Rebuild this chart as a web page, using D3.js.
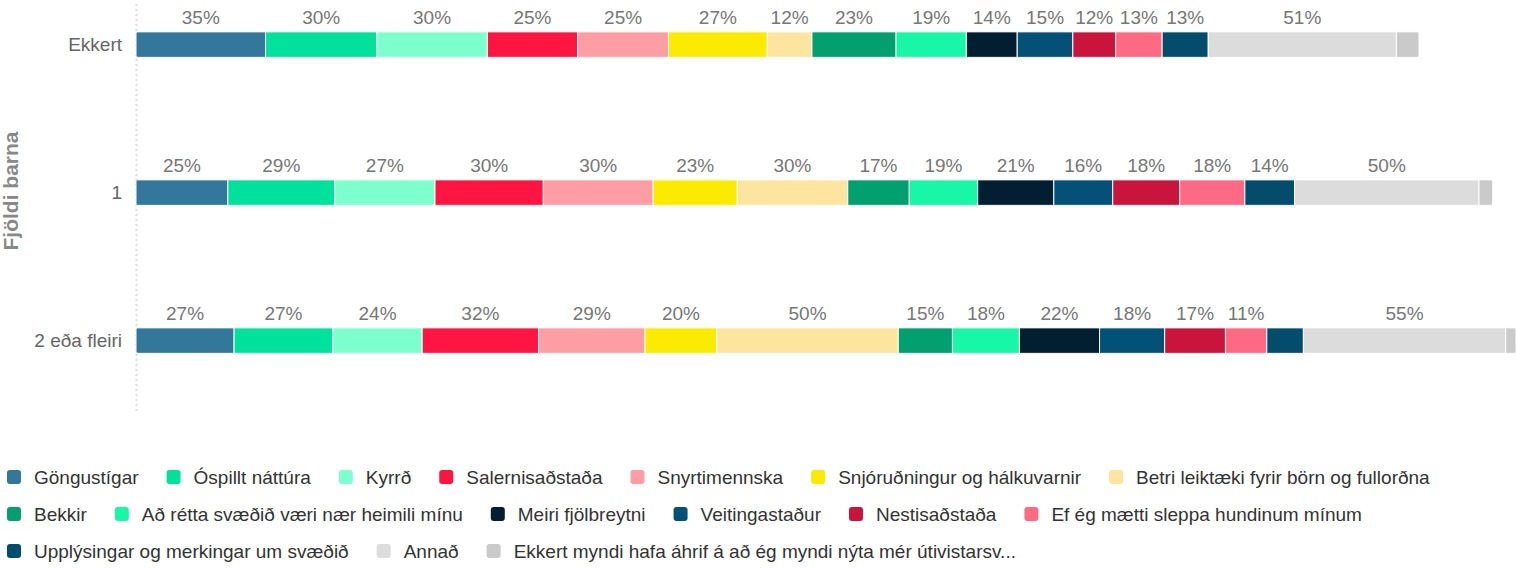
<!DOCTYPE html>
<html>
<head>
<meta charset="utf-8">
<script src="https://cdn.jsdelivr.net/npm/d3@7"></script>
<style>
  body { margin: 0; background: #fff; }
  svg text { font-family: "Liberation Sans", Arial, sans-serif; }
</style>
</head>
<body>
<svg id="chart" width="1516" height="569"></svg>
<script>
// Categories on the vertical axis (number of children)
const categories = ["Ekkert", "1", "2 eða fleiri"];

// Answer options, in stacking order
const seriesNames = [
  "Göngustígar",
  "Óspillt náttúra",
  "Kyrrð",
  "Salernisaðstaða",
  "Snyrtimennska",
  "Snjóruðningur og hálkuvarnir",
  "Betri leiktæki fyrir börn og fullorðna",
  "Bekkir",
  "Að rétta svæðið væri nær heimili mínu",
  "Meiri fjölbreytni",
  "Veitingastaður",
  "Nestisaðstaða",
  "Ef ég mætti sleppa hundinum mínum",
  "Upplýsingar og merkingar um svæðið",
  "Annað",
  "Ekkert myndi hafa áhrif á að ég myndi nýta mér útivistarsv..."
];

const seriesColors = [
  "#33779b", "#00e29b", "#7dffce", "#fe1541", "#ff9da4", "#fbeb00",
  "#fee59f", "#02a06e", "#17f7a7", "#021e31", "#045177", "#c9153c",
  "#fe6a83", "#034c6b", "#dcdcdc", "#cacaca"
];

// Share (%) per answer option, one array per category
const valuesEkkert = [35.4, 30.4, 30.2, 24.7, 24.8, 27.0, 12.2, 23.0, 19.2, 13.9, 15.2, 11.7, 12.7, 12.6, 51.4, 6.2];
const valuesOne    = [25.1, 29.2, 27.4, 29.6, 30.0, 23.0, 30.2, 16.8, 18.7, 20.8, 16.1, 18.3, 17.8, 13.6, 50.4, 3.7];
const valuesTwoPlus = [26.8, 27.0, 24.4, 31.8, 29.1, 19.6, 49.6, 14.8, 18.3, 21.9, 17.8, 16.6, 11.3, 10.0, 55.3, 2.8];

const axisTitle = "Fjöldi barna";

const rowValues = [valuesEkkert, valuesOne, valuesTwoPlus];

const svg = d3.select("#chart");
const width = 1516;

const plotLeft = 136;
const plotRight = 1516;
const barHeight = 25.5;

const totals = rowValues.map(v => d3.sum(v));
const x = d3.scaleLinear().domain([0, d3.max(totals)]).range([plotLeft, plotRight]);
const y = d3.scalePoint().domain(categories).range([44.6, 340.6]);

// Dotted axis line
svg.append("line")
  .attr("x1", plotLeft + 0.5).attr("x2", plotLeft + 0.5)
  .attr("y1", 4).attr("y2", 414)
  .attr("stroke", "#dddddd").attr("stroke-width", 2)
  .attr("stroke-dasharray", "2,3");

// Category labels
svg.append("g").selectAll("text")
  .data(categories)
  .join("text")
  .attr("x", plotLeft - 14)
  .attr("y", d => y(d))
  .attr("dy", "0.35em")
  .attr("text-anchor", "end")
  .attr("font-size", 19)
  .attr("fill", "#666")
  .text(d => d);

// Axis title
svg.append("text")
  .attr("transform", `translate(17.5,${(4 + 414) / 2 - 18}) rotate(-90)`)
  .attr("text-anchor", "middle")
  .attr("font-size", 21)
  .attr("font-weight", "bold")
  .attr("fill", "#888")
  .text(axisTitle);

const defs = svg.append("defs");

categories.forEach((cat, ri) => {
  const vals = rowValues[ri];
  let acc = 0;
  const segs = vals.map((v, si) => {
    const s = { v, si, x0: acc, x1: acc + v };
    acc += v;
    return s;
  });
  const top = y(cat) - barHeight / 2;

  // Rounded ends of the whole stacked bar
  const clipId = "row-clip-" + ri;
  defs.append("clipPath").attr("id", clipId)
    .append("rect")
    .attr("x", x(0)).attr("y", top)
    .attr("width", x(totals[ri]) - x(0))
    .attr("height", barHeight)
    .attr("rx", 3).attr("ry", 3);

  const g = svg.append("g").attr("clip-path", `url(#${clipId})`);
  g.selectAll("rect")
    .data(segs)
    .join("rect")
    .attr("x", d => x(d.x0))
    .attr("y", top)
    .attr("width", d => x(d.x1) - x(d.x0))
    .attr("height", barHeight)
    .attr("fill", d => seriesColors[d.si])
    .attr("stroke", "#fff")
    .attr("stroke-width", 1);

  // Value labels above each segment, skipped where they don't fit
  const lg = svg.append("g");
  segs.forEach(d => {
    const w = x(d.x1) - x(d.x0);
    const t = lg.append("text")
      .attr("x", (x(d.x0) + x(d.x1)) / 2)
      .attr("y", top - 7.5)
      .attr("text-anchor", "middle")
      .attr("font-size", 19)
      .attr("fill", "#777")
      .text(Math.round(d.v) + "%");
    if (t.node().getComputedTextLength() > w) t.remove();
  });
});

// Legend with flowing rows
const legend = svg.append("g");
const legendRows = [477, 514, 551];
const symbolSize = 14;
const textOffset = 27;
const itemGap = 28;
let cx = 7, row = 0;
seriesNames.forEach((name, i) => {
  const item = legend.append("g");
  const txt = item.append("text")
    .attr("font-size", 19)
    .attr("fill", "#333")
    .attr("dy", "0.35em")
    .text(name);
  const tw = txt.node().getComputedTextLength();
  const itemW = textOffset + tw;
  if (cx + itemW > width - 4 && cx > 7) { row += 1; cx = 7; }
  const cy = legendRows[row];
  txt.attr("x", cx + textOffset).attr("y", cy);
  item.append("rect")
    .attr("x", cx).attr("y", cy - symbolSize / 2)
    .attr("width", symbolSize).attr("height", symbolSize)
    .attr("rx", 3).attr("ry", 3)
    .attr("fill", seriesColors[i]);
  cx += itemW + itemGap;
});
</script>
</body>
</html>
